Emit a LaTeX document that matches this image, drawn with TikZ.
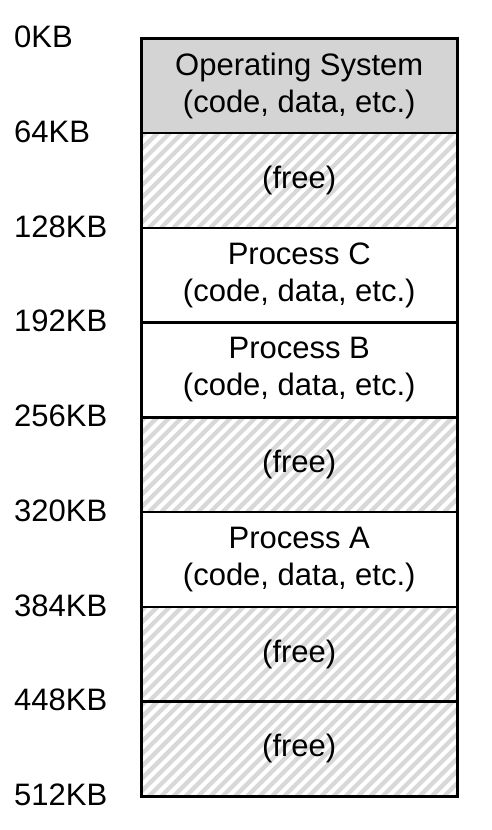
\documentclass[tikz,border=0pt]{standalone}
\usepackage{fontspec}
\setmainfont{Liberation Sans}
\definecolor{osgray}{HTML}{D4D4D4}
\definecolor{hatchgray}{HTML}{D8D8D8}
\begin{document}
\begin{tikzpicture}[x=1pt,y=1pt,
  every node/.style={font=\fontsize{31}{37}\selectfont},
  cell/.style={draw=black, line width=2.5pt, rectangle, anchor=north west,
    minimum width=316pt, minimum height=94.75pt, inner sep=0pt, align=center},
  oscell/.style={cell, fill=osgray},
  freecell/.style={cell, path picture={
      \foreach \k in {0,...,45}
        \draw[hatchgray, line width=4.3pt]
          ([xshift=\k*12.3pt-140pt]path picture bounding box.south west) -- ++(160pt,160pt);
    }},
  addr/.style={anchor=west, inner sep=0pt}
]
\useasboundingbox (0,0) rectangle (492,-830);

% memory cells, top to bottom
\node[oscell]   (r0) at (140,-37)        {Operating System\\(code, data, etc.)};
\node[freecell] (r1) at (140,-131.75)    {(free)};
\node[cell]     (r2) at (140,-226.5)     {Process C\\(code, data, etc.)};
\node[cell]     (r3) at (140,-321.25)    {Process B\\(code, data, etc.)};
\node[freecell] (r4) at (140,-416)       {(free)};
\node[cell]     (r5) at (140,-510.75)    {Process A\\(code, data, etc.)};
\node[freecell] (r6) at (140,-605.5)     {(free)};
\node[freecell] (r7) at (140,-700.25)    {(free)};

% address labels at the cell boundaries
\node[addr] (a0) at (14,-37)      {0KB};
\node[addr] (a1) at (14,-131.75)  {64KB};
\node[addr] (a2) at (14,-226.5)   {128KB};
\node[addr] (a3) at (14,-321.25)  {192KB};
\node[addr] (a4) at (14,-416)     {256KB};
\node[addr] (a5) at (14,-510.75)  {320KB};
\node[addr] (a6) at (14,-605.5)   {384KB};
\node[addr] (a7) at (14,-700.25)  {448KB};
\node[addr] (a8) at (14,-795)     {512KB};
\end{tikzpicture}
\end{document}
